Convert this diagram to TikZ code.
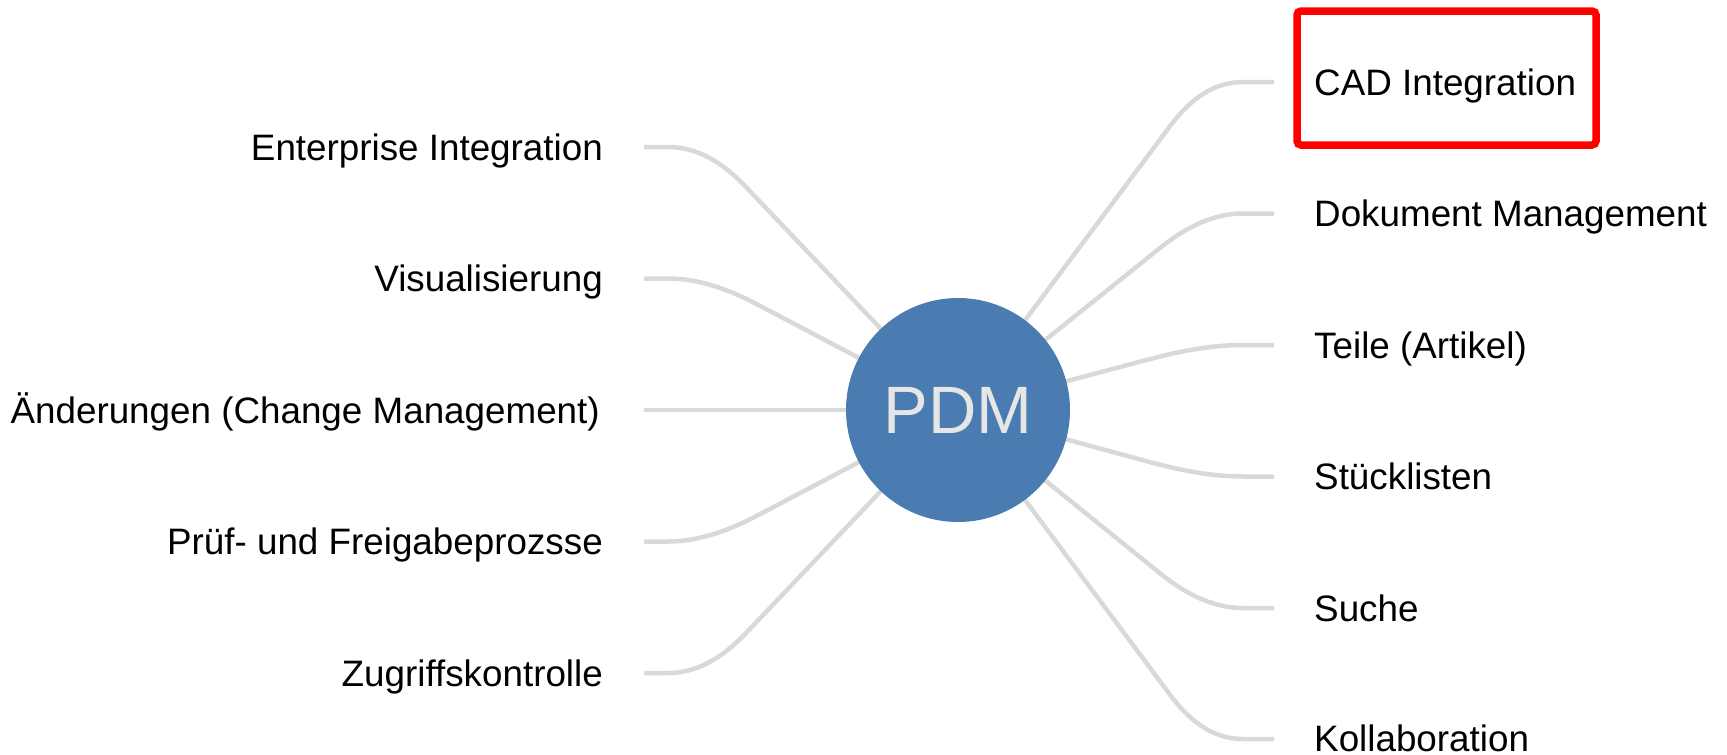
\documentclass[tikz,border=0pt]{standalone}
\usepackage{fontspec}
\setmainfont{Liberation Sans}
\usetikzlibrary{calc,backgrounds}
\definecolor{pdmblue}{HTML}{4A7CB1}
\definecolor{linegray}{HTML}{D9D9D9}
\definecolor{pdmtext}{HTML}{E6E6E6}
\begin{document}
\begin{tikzpicture}[x=1pt,y=-1pt,
  conn/.style={draw=linegray, line width=4.5pt},
  lbl/.style={inner sep=0pt, font=\fontsize{36.8}{44}\selectfont, text=black},
  hub/.style={circle, fill=pdmblue, minimum size=224pt, inner sep=0pt, outer sep=0pt,
              text=pdmtext, font=\fontsize{67}{80}\selectfont},
  markbox/.style={draw=red, line width=7.5pt, rounded corners=4pt, inner sep=0pt, outer sep=0pt}
]
\useasboundingbox (0,0) rectangle (1727,755);

\node[hub] (pdm) at (958,410) {PDM};

% right labels
\node[lbl, anchor=base west] (r1) at (1314,95) {CAD Integration};
\node[lbl, anchor=base west] (r2) at (1314,226.5) {Dokument Management};
\node[lbl, anchor=base west] (r3) at (1314,358) {Teile (Artikel)};
\node[lbl, anchor=base west] (r4) at (1314,489.5) {Stücklisten};
\node[lbl, anchor=base west] (r5) at (1314,621) {Suche};
\node[lbl, anchor=base west] (r6) at (1314,751) {Kollaboration};

% left labels
\node[lbl, anchor=base east] (l1) at (603,160) {Enterprise Integration};
\node[lbl, anchor=base east] (l2) at (603,291.5) {Visualisierung};
\node[lbl, anchor=base east] (l3) at (600,423) {Änderungen (Change Management)};
\node[lbl, anchor=base east] (l4) at (603,554.5) {Prüf- und Freigabeprozsse};
\node[lbl, anchor=base east] (l5) at (603,686) {Zugriffskontrolle};

% highlight box
\node[markbox, minimum width=299pt, minimum height=134pt, anchor=north west] (cadbox) at (1297,11) {};

% connector ends and corners
\foreach \i/\y in {1/82,2/213.5,3/345,4/476.5,5/608,6/739}{
  \coordinate (re\i) at (1274,\y);
  \coordinate (rk\i) at (1203,\y);
}
\foreach \i/\y in {1/147,2/278.5,3/410,4/541.5,5/673}{
  \coordinate (le\i) at (644,\y);
  \coordinate (lk\i) at (708,\y);
}

\begin{scope}[on background layer]
\foreach \i in {1,...,6}{
  \draw[conn] (pdm.center) -- ($(rk\i)!55pt!(pdm.center)$)
    .. controls ($(rk\i)!18pt!(pdm.center)$) and ($(rk\i)!13pt!(re\i)$) ..
    ($(rk\i)!40pt!(re\i)$) -- (re\i);
}
\foreach \i in {1,...,5}{
  \draw[conn] (pdm.center) -- ($(lk\i)!55pt!(pdm.center)$)
    .. controls ($(lk\i)!18pt!(pdm.center)$) and ($(lk\i)!13pt!(le\i)$) ..
    ($(lk\i)!40pt!(le\i)$) -- (le\i);
}
\end{scope}
\end{tikzpicture}
\end{document}
